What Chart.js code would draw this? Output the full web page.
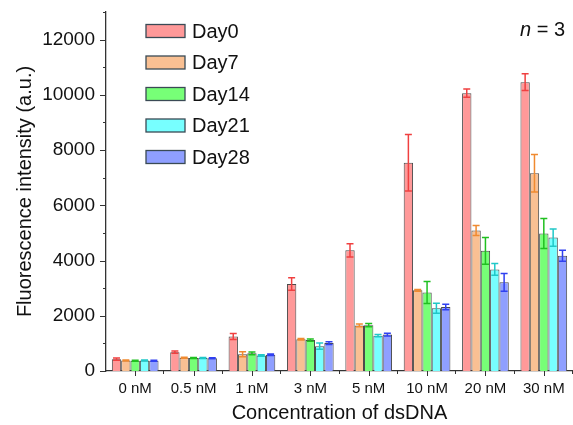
<!DOCTYPE html>
<html>
<head>
<meta charset="utf-8">
<script src="https://cdn.jsdelivr.net/npm/chart.js@4"></script>
<style>
  html, body { margin:0; padding:0; background:#fff; }
  canvas { display:block; }
</style>
</head>
<body>
<canvas id="chart" width="573" height="425"></canvas>
<script>
const categories = ['0 nM','0.5 nM','1 nM','3 nM','5 nM','10 nM','20 nM','30 nM'];
const seriesNames = ['Day0','Day7','Day14','Day21','Day28'];

const day0  = [430, 680, 1250, 3150, 4370, 7540, 10060, 10460];
const day7  = [380, 480, 610, 1150, 1650, 2920, 5090, 7160];
const day14 = [370, 470, 640, 1120, 1660, 2840, 4350, 4980];
const day21 = [380, 470, 560, 900, 1280, 2270, 3680, 4830];
const day28 = [370, 460, 590, 1010, 1320, 2320, 3210, 4170];

const err0  = [40, 40, 110, 230, 240, 1020, 150, 300];
const err7  = [20, 20, 90, 30, 50, 30, 180, 680];
const err14 = [20, 20, 50, 40, 60, 400, 480, 540];
const err21 = [20, 20, 30, 110, 40, 180, 210, 310];
const err28 = [20, 20, 30, 50, 50, 100, 320, 200];

const fills = ['#ff9999', '#f9c093', '#77ff77', '#77ffff', '#8f9fff'];
const errColors = ['#f04040', '#f08a30', '#20c020', '#20c8c8', '#3040f0'];

const font = 'Arial, "Liberation Sans", sans-serif';

const values = [day0, day7, day14, day21, day28];
const errors = [err0, err7, err14, err21, err28];

const errorBars = {
  id: 'errorBars',
  afterDatasetsDraw(chart){
    const ctx = chart.ctx, y = chart.scales.y;
    chart.data.datasets.forEach((ds, i) => {
      const meta = chart.getDatasetMeta(i);
      ctx.save();
      ctx.strokeStyle = errColors[i];
      ctx.lineWidth = 1.5;
      meta.data.forEach((bar, j) => {
        const v = ds.data[j], e = ds.errors[j];
        const top = y.getPixelForValue(v + e), bot = y.getPixelForValue(v - e);
        ctx.beginPath();
        ctx.moveTo(bar.x, top); ctx.lineTo(bar.x, bot);
        ctx.moveTo(bar.x - 3.5, top); ctx.lineTo(bar.x + 3.5, top);
        ctx.moveTo(bar.x - 3.5, bot); ctx.lineTo(bar.x + 3.5, bot);
        ctx.stroke();
      });
      ctx.restore();
    });
  }
};

const axisTicks = {
  id: 'axisTicks',
  afterDraw(chart){
    const ctx = chart.ctx, x = chart.scales.x, y = chart.scales.y;
    const area = chart.chartArea;
    ctx.save();
    ctx.strokeStyle = '#333';
    ctx.lineWidth = 1;
    ctx.beginPath();
    for (let v = 0; v <= 13000; v += 1000){
      const py = Math.round(y.getPixelForValue(v)) + 0.5;
      const len = v % 2000 === 0 ? 6 : 3;
      ctx.moveTo(area.left - len, py); ctx.lineTo(area.left, py);
    }
    const step = (area.right - area.left) / categories.length;
    categories.forEach((c, i) => {
      const px = Math.round(x.getPixelForValue(i)) + 0.5;
      ctx.moveTo(px, area.bottom); ctx.lineTo(px, area.bottom + 5);
      const bx = Math.round(area.left + step * (i + 1)) - 0.5;
      ctx.moveTo(bx, area.bottom); ctx.lineTo(bx, area.bottom + 3);
    });
    ctx.stroke();

    // legend
    ctx.font = '20px ' + font;
    ctx.textBaseline = 'middle';
    seriesNames.forEach((name, i) => {
      const cy = 31 + i * 31.5;
      ctx.fillStyle = fills[i];
      ctx.fillRect(146, cy - 6.5, 39, 13);
      ctx.strokeStyle = '#3a4a55';
      ctx.lineWidth = 1.3;
      ctx.strokeRect(146, cy - 6.5, 39, 13);
      ctx.fillStyle = '#111';
      ctx.fillText(name, 192, cy + 1);
    });

    // n = 3
    ctx.font = 'italic 20px ' + font;
    ctx.fillText('n', 520, 30);
    const w = ctx.measureText('n').width;
    ctx.font = '20px ' + font;
    ctx.fillText(' = 3', 520 + w, 30);
    ctx.restore();
  }
};

new Chart(document.getElementById('chart'), {
  type: 'bar',
  data: {
    labels: categories,
    datasets: seriesNames.map((name, i) => ({
      label: name,
      data: values[i],
      errors: errors[i],
      backgroundColor: fills[i],
      borderColor: '#4a4a4a',
      borderWidth: 1,
      categoryPercentage: 0.8,
      barPercentage: 1.0
    }))
  },
  options: {
    responsive: false,
    animation: false,
    devicePixelRatio: 1,
    layout: { padding: { top: 12, right: 0, left: 0, bottom: 0 } },
    plugins: { legend: { display: false }, tooltip: { enabled: false } },
    scales: {
      x: {
        grid: { display: false, drawTicks: false },
        border: { display: true, color: '#333', width: 1.3 },
        ticks: { color: '#111', font: { family: font, size: 15 }, padding: 9, maxRotation: 0, autoSkip: false },
        title: { display: true, text: 'Concentration of dsDNA', color: '#111', font: { family: font, size: 20 }, padding: { top: 0, bottom: 0 } },
        afterFit(scale){ scale.height = 54; scale.paddingLeft = 0; scale.paddingRight = 0; }
      },
      y: {
        min: 0, max: 13000,
        grid: { display: false, drawTicks: false },
        border: { display: true, color: '#333', width: 1.3 },
        ticks: {
          stepSize: 1000, color: '#111', font: { family: font, size: 19 }, padding: 11,
          callback: v => (v % 2000 === 0 && v <= 12000) ? String(v) : ''
        },
        title: { display: true, text: 'Fluorescence intensity (a.u.)', color: '#111', font: { family: font, size: 20 }, padding: { top: 13, bottom: 0 } },
        afterFit(scale){ scale.width = 106; scale.paddingTop = 0; scale.paddingBottom = 0; }
      }
    }
  },
  plugins: [errorBars, axisTicks]
});
</script>
</body>
</html>
